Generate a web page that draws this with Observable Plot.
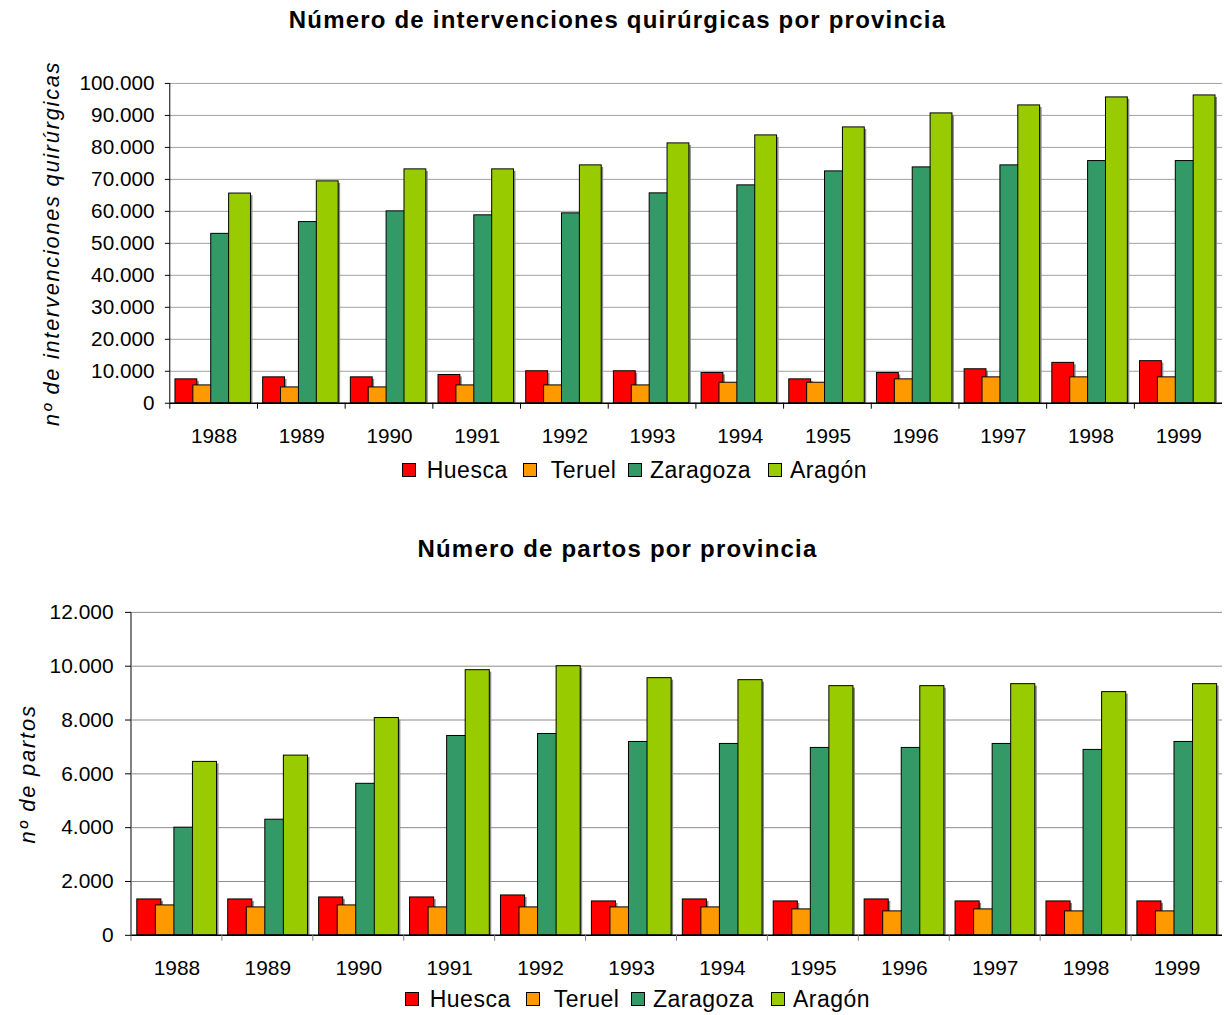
<!DOCTYPE html>
<html><head><meta charset="utf-8">
<script src="https://cdn.jsdelivr.net/npm/d3@7"></script>
<script src="https://cdn.jsdelivr.net/npm/@observablehq/plot@0.6"></script>
<style>
html,body{margin:0;padding:0;background:#fff;overflow:hidden;}
#root{position:relative;width:1224px;height:1015px;overflow:hidden;font-family:"Liberation Sans",Arial,sans-serif;color:#000;}
.title{position:absolute;left:0;width:1235px;text-align:center;font-weight:bold;font-size:24px;line-height:24px;letter-spacing:1.2px;white-space:nowrap;}
.abs{position:absolute;}
.abs svg{display:block;}
.sw{position:absolute;width:14px;height:14px;border:1px solid #000;box-sizing:border-box;}
.lb{position:absolute;font-size:23px;line-height:23px;letter-spacing:0.5px;white-space:nowrap;}
</style></head><body><div id="root"></div>
<script>
// ---- data ----
const years = ["1988","1989","1990","1991","1992","1993","1994","1995","1996","1997","1998","1999"];
const series = ["Huesca","Teruel","Zaragoza","Aragón"];
const colors = ["#FF0000","#FF9900","#339966","#99CC00"];

const titleTop = "Número de intervenciones quirúrgicas por provincia";
const yLabelTop = "nº de intervenciones quirúrgicas";
const cirHuesca   = [7470, 8100, 8100, 8840, 10000, 10000, 9470, 7470, 9470, 10630, 12630, 13160];
const cirTeruel   = [5580, 4950, 4950, 5580, 5580, 5580, 6420, 6420, 7470, 8100, 8100, 8100];
const cirZaragoza = [52970, 56650, 60000, 58760, 59380, 65630, 68130, 72500, 73750, 74380, 75730, 75730];
const cirAragon   = [65570, 69380, 73130, 73130, 74380, 81250, 83750, 86250, 90630, 93130, 95630, 96250];
const cirTicks = [0, 10000, 20000, 30000, 40000, 50000, 60000, 70000, 80000, 90000, 100000];

const titleBottom = "Número de partos por provincia";
const yLabelBottom = "nº de partos";
const partHuesca   = [1333, 1333, 1407, 1407, 1481, 1259, 1333, 1259, 1333, 1259, 1259, 1259];
const partTeruel   = [1111, 1037, 1111, 1037, 1037, 1037, 1037, 963, 889, 963, 889, 889];
const partZaragoza = [4000, 4296, 5630, 7407, 7481, 7185, 7111, 6963, 6963, 7111, 6889, 7185];
const partAragon   = [6444, 6678, 8074, 9852, 10000, 9556, 9481, 9259, 9259, 9333, 9037, 9333];
const partTicks = [0, 2000, 4000, 6000, 8000, 10000, 12000];

// ---- helpers ----
const esFormat = d3.formatLocale({decimal: ",", thousands: ".", grouping: [3], currency: ["", " €"]}).format(",d");
const root = document.getElementById("root");

function addText(cls, text, top, left) {
  const d = document.createElement("div");
  d.className = cls;
  d.textContent = text;
  d.style.top = top + "px";
  if (left != null) d.style.left = left + "px";
  root.appendChild(d);
  return d;
}

function drawChart(o) {
  const rows = [];
  series.forEach((s, si) => o.vals[si].forEach((v, i) => rows.push({year: years[i], series: s, si, value: v})));
  const bw = (o.width - o.marginLeft - o.marginRight) / years.length;
  const yMax = o.ticks[o.ticks.length - 1];
  const marks = [
    Plot.ruleY(o.ticks, {stroke: o.gridStroke, strokeWidth: 1})
  ];
  series.forEach((s, si) => {
    const il = bw * (o.pad + o.step * si), w = bw * o.barW, ir = bw - il - w;
    const d = rows.filter(r => r.si === si);
    marks.push(Plot.barY(d, {x: "year", y: "value", fill: "#8a8a8a", insetLeft: il + 2, insetRight: ir - 2, insetTop: 2}));
    marks.push(Plot.barY(d, {x: "year", y: "value", fill: colors[si], stroke: "#000", strokeWidth: 1, insetLeft: il, insetRight: ir}));
  });
  // y axis line at the left edge of the first band
  marks.push(Plot.barY([years[0]], {x: d => d, y1: () => 0, y2: () => yMax, insetLeft: -o.axisW / 2, insetRight: bw - o.axisW / 2, fill: o.axisStroke}));
  // baseline
  marks.push(Plot.ruleY([0], {stroke: "#000", strokeWidth: 1.5}));
  // category boundary ticks below the baseline
  marks.push(Plot.barY(years, {x: d => d, y1: () => 0, y2: () => 0, insetLeft: -0.5, insetRight: bw - 0.5, insetBottom: -6, fill: o.axisStroke}));
  marks.push(Plot.axisY({ticks: o.ticks, tickSize: o.tickSize, tickPadding: o.tickPadding, tickFormat: esFormat, label: null, fontSize: 21, stroke: "#000"}));
  marks.push(Plot.axisX({tickSize: 0, tickPadding: o.xPad, label: null, fontSize: 21}));
  marks.push(Plot.text([o.yLabel], {frameAnchor: "left", textAnchor: "middle", text: d => d, rotate: -90, dx: o.yLabelDx, fontSize: 22, fontStyle: "italic", fill: "#000"}));

  const svg = Plot.plot({
    width: o.width, height: o.height,
    marginLeft: o.marginLeft, marginRight: o.marginRight, marginTop: o.marginTop, marginBottom: o.marginBottom,
    x: {type: "band", domain: years, padding: 0, round: false},
    y: {domain: [0, yMax]},
    style: {fontFamily: "Liberation Sans, Arial, sans-serif", fontSize: "21px", color: "#000", background: "transparent", overflow: "visible"},
    marks
  });
  d3.select(svg).selectAll("text").filter(function() { return this.textContent === o.yLabel; }).attr("letter-spacing", "1.8px");
  const holder = document.createElement("div");
  holder.className = "abs";
  holder.style.top = o.top + "px";
  holder.style.left = "0px";
  holder.appendChild(svg);
  root.appendChild(holder);
}

function drawLegend(cy, shift) {
  const swX = [401.7, 523.3, 628.3, 768.3];
  const txX = [426.7, 550.7, 650, 790];
  series.forEach((s, i) => {
    const sw = document.createElement("div");
    sw.className = "sw";
    sw.style.left = (swX[i] + shift) + "px";
    sw.style.top = (cy - 7) + "px";
    sw.style.background = colors[i];
    root.appendChild(sw);
    addText("lb", s, cy - 11.3, txX[i] + shift);
  });
}

// ---- top chart ----
addText("title", titleTop, 8);
drawChart({
  vals: [cirHuesca, cirTeruel, cirZaragoza, cirAragon], ticks: cirTicks, yLabel: yLabelTop,
  top: 40, width: 1240, height: 420, marginLeft: 172, marginRight: 2, marginTop: 43.5, marginBottom: 52.5,
  pad: 0.059, step: 0.204, barW: 0.249, gridStroke: "#a0a0a0", axisStroke: "#000", axisW: 1,
  tickSize: 5, tickPadding: 11, xPad: 25, yLabelDx: -120
});
drawLegend(470, 0);

// ---- bottom chart ----
addText("title", titleBottom, 537);
drawChart({
  vals: [partHuesca, partTeruel, partZaragoza, partAragon], ticks: partTicks, yLabel: yLabelBottom,
  top: 575, width: 1228, height: 400, marginLeft: 131.4, marginRight: 2, marginTop: 37, marginBottom: 39,
  pad: 0.064, step: 0.204, barW: 0.265, gridStroke: "#8c8c8c", axisStroke: "#808080", axisW: 2,
  tickSize: 6, tickPadding: 12, xPad: 25, yLabelDx: -104
});
drawLegend(999, 3);
</script></body></html>
